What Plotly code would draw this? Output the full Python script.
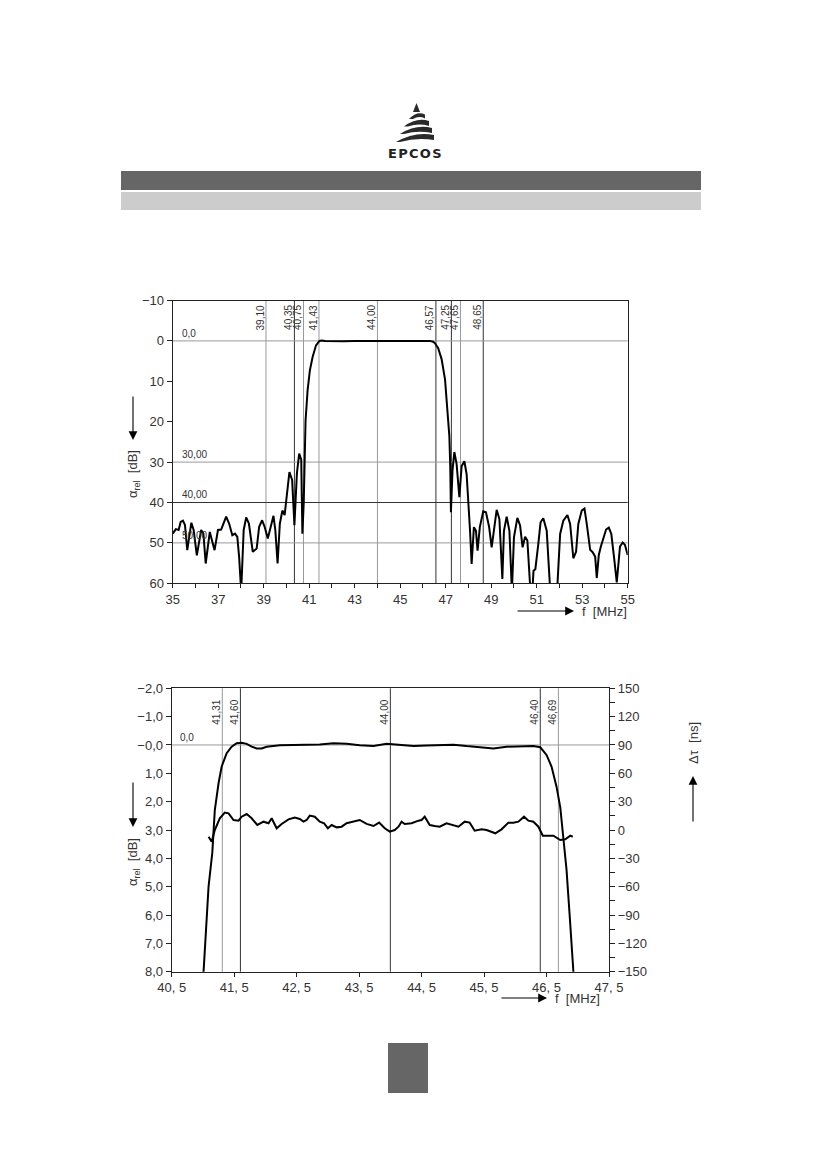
import plotly.graph_objects as go

W, H = 826, 1169
OFF = 8  # page body margin that the browser adds around the figure

# ---------------- data: top chart (attenuation, 35..55 MHz) ----------------
f_top = [35.0, 35.14, 35.26, 35.35, 35.45, 35.54, 35.64, 35.71, 35.82, 35.92,
         36.06, 36.25, 36.35, 36.45, 36.63, 36.84, 36.99, 37.13, 37.24, 37.35,
         37.48, 37.62, 37.74, 37.84, 37.92, 38.01, 38.12, 38.23, 38.35, 38.52,
         38.69, 38.80, 38.93, 39.04, 39.18, 39.33, 39.43, 39.51, 39.61, 39.71,
         39.82, 39.92, 40.04, 40.13, 40.25, 40.35, 40.46, 40.56, 40.65, 40.70,
         40.76, 40.79, 40.84, 40.93, 41.03, 41.15, 41.30, 41.45, 41.55, 41.70,
         42.0, 42.5, 43.0, 43.5, 44.0, 44.5, 45.0, 45.5, 46.0, 46.3,
         46.45, 46.53, 46.67, 46.82, 46.97, 47.07, 47.16, 47.20, 47.23, 47.30,
         47.38, 47.48, 47.60, 47.70, 47.82, 47.92, 47.99, 48.07, 48.14, 48.24,
         48.33, 48.40, 48.50, 48.65, 48.77, 48.91, 49.02, 49.12, 49.24, 49.36,
         49.49, 49.56, 49.68, 49.80, 49.91, 50.0, 50.15, 50.27, 50.38, 50.49,
         50.59, 50.71, 50.78, 50.86, 50.94, 51.07, 51.17, 51.29, 51.44, 51.58,
         51.75, 51.91, 52.03, 52.17, 52.35, 52.47, 52.61, 52.73, 52.83, 52.98,
         53.10, 53.20, 53.35, 53.46, 53.57, 53.64, 53.73, 53.82, 53.93, 54.05,
         54.17, 54.28, 54.40, 54.52, 54.66, 54.78, 54.88, 55.0]
a_top = [47.7, 46.6, 46.8, 44.8, 44.5, 45.6, 51.8, 49.3, 45.0, 46.8,
         53.1, 46.8, 47.7, 55.1, 47.3, 51.8, 46.8, 46.7, 45.2, 43.5,
         45.2, 48.1, 47.7, 48.5, 53.5, 62.0, 46.8, 43.7, 45.2, 52.2,
         51.4, 46.0, 44.4, 46.0, 48.9, 45.6, 43.3, 46.8, 55.1, 45.2,
         42.0, 43.1, 36.5, 32.5, 34.4, 45.6, 32.7, 27.9, 29.4, 47.7,
         40.0, 34.6, 19.7, 12.2, 7.3, 4.0, 1.1, 0.0, -0.1, 0.05,
         0.1, 0.08, 0.05, 0.05, 0.0, 0.0, 0.0, 0.02, 0.0, 0.0,
         0.2, 0.6, 1.8, 4.5, 9.5, 16.0, 23.5, 31.0, 42.4, 32.0,
         27.5, 30.5, 38.7, 31.0, 29.8, 33.0, 38.7, 47.0, 55.2, 46.1,
         47.0, 51.9, 46.1, 42.2, 42.4, 46.1, 51.1, 47.0, 41.8, 44.1,
         58.9, 47.0, 43.5, 47.0, 62.0, 48.6, 43.8, 45.7, 51.1, 48.5,
         49.4, 60.5, 65.0, 56.9, 56.5, 50.3, 44.9, 43.9, 47.0, 60.5,
         70.0, 60.5, 47.8, 44.5, 43.1, 45.3, 53.8, 52.2, 45.3, 42.0,
         41.5, 45.3, 51.7, 52.3, 53.4, 58.7, 53.0, 50.9, 48.8, 46.7,
         46.2, 47.8, 53.6, 59.8, 50.9, 49.9, 50.5, 53.0]

x_top_ticks = list(range(35, 56))
x_top_labels = [str(v) if v % 2 == 1 else "" for v in x_top_ticks]
y_top_ticks = [-10, 0, 10, 20, 30, 40, 50, 60]
y_top_labels = ["\u221210", "0", "10", "20", "30", "40", "50", "60"]

mark_top = [39.10, 40.35, 40.75, 41.43, 44.00, 46.57, 47.25, 47.65, 48.65]
mark_top_text = ["39,10", "40,35", "40,75", "41,43", "44,00", "46,57", "47,25", "47,65", "48,65"]
mark_top_dark = [False, True, False, False, False, True, True, False, True]
hline_top = [0, 30, 40, 50]
hline_top_text = ["0,0", "30,00", "40,00", "50,00"]
hline_top_dark = [False, False, True, False]

# ---------------- data: bottom chart (passband + group delay) ----------------
f_mag = [40.97, 41.01, 41.09, 41.15, 41.19, 41.25, 41.30, 41.38, 41.46, 41.54,
         41.62, 41.70, 41.78, 41.86, 41.94, 42.02, 42.23, 42.45, 42.66, 42.87,
         43.09, 43.30, 43.51, 43.73, 43.94, 44.15, 44.37, 44.58, 44.80, 45.01,
         45.22, 45.44, 45.65, 45.86, 46.08, 46.29, 46.40, 46.50, 46.58, 46.66,
         46.72, 46.77, 46.82, 46.87, 46.93, 46.96]
a_mag = [9.0, 8.0, 5.0, 3.8, 2.3, 1.35, 0.76, 0.29, 0.06, -0.06,
         -0.08, -0.04, 0.06, 0.12, 0.12, 0.06, 0.01, 0.0, 0.01, -0.02,
         -0.06, -0.04, 0.01, 0.04, -0.04, 0.0, 0.04, 0.02, 0.01, -0.01,
         0.04, 0.08, 0.12, 0.06, 0.05, 0.04, 0.08, 0.35, 0.76, 1.47,
         2.2, 3.2, 4.4, 6.0, 8.0, 9.0]

f_gd = [41.09, 41.14, 41.19, 41.27, 41.35, 41.41, 41.49, 41.57, 41.62, 41.70,
        41.78, 41.87, 41.97, 42.05, 42.10, 42.18, 42.26, 42.37, 42.47, 42.55,
        42.61, 42.66, 42.71, 42.79, 42.87, 42.94, 43.00, 43.06, 43.14, 43.22,
        43.30, 43.41, 43.51, 43.62, 43.73, 43.82, 43.91, 43.99, 44.07, 44.13,
        44.18, 44.23, 44.34, 44.45, 44.50, 44.55, 44.58, 44.63, 44.71, 44.79,
        44.90, 45.01, 45.09, 45.19, 45.27, 45.35, 45.46, 45.54, 45.68, 45.78,
        45.89, 45.97, 46.05, 46.14, 46.21, 46.29, 46.37, 46.44, 46.53, 46.61,
        46.72, 46.80, 46.88, 46.92]
gd = [-7.1, -12.4, 0.0, 12.4, 18.4, 17.6, 10.6, 9.9, 14.1, 16.9,
      12.4, 5.3, 8.8, 7.1, 12.4, 1.8, 6.4, 11.3, 13.1, 11.6,
      8.8, 10.6, 15.2, 14.1, 8.8, 7.1, 1.8, 5.3, 2.8, 3.5,
      7.1, 8.8, 10.6, 6.4, 4.2, 7.8, 1.8, -1.8, 0.0, 3.5,
      8.8, 6.4, 7.1, 9.9, 10.6, 14.1, 11.3, 5.3, 4.2, 3.5,
      7.1, 5.3, 3.5, 8.8, 7.8, -0.7, 0.7, 0.0, -3.5, 0.7,
      7.8, 7.8, 8.8, 14.1, 9.9, 8.8, 3.5, -6.0, -6.4, -6.0,
      -10.6, -9.9, -6.0, -7.1]

x_bot_ticks = [40.5, 41.5, 42.5, 43.5, 44.5, 45.5, 46.5, 47.5]
x_bot_labels = ["40, 5", "41, 5", "42, 5", "43, 5", "44, 5", "45, 5", "46, 5", "47, 5"]
y_bot_ticks = [-2, -1, 0, 1, 2, 3, 4, 5, 6, 7, 8]
y_bot_labels = ["\u22122,0", "\u22121,0", "\u22120,0", "1,0", "2,0", "3,0", "4,0",
                "5,0", "6,0", "7,0", "8,0"]
y_gd_ticks = [150, 120, 90, 60, 30, 0, -30, -60, -90, -120, -150]
y_gd_labels = ["150", "120", "90", "60", "30", "0", "\u221230", "\u221260",
               "\u221290", "\u2212120", "\u2212150"]

mark_bot = [41.31, 41.60, 44.00, 46.40, 46.69]
mark_bot_text = ["41,31", "41,60", "44,00", "46,40", "46,69"]
mark_bot_dark = [False, True, True, True, False]
hline_bot = [0]
hline_bot_text = ["0,0"]

# ---------------- layout helpers ----------------
def PX(x):
    return (x - OFF) / W


def PY(y):
    return 1 - (y - OFF) / H


FONT = "Liberation Sans"
TXT = "#333333"
DARK = "#333333"
GRAY = "#9a9a9a"

top_xdom = [PX(172.7), PX(627.7)]
top_ydom = [PY(583.3), PY(300.5)]
bot_xdom = [PX(171.7), PX(609.0)]
bot_ydom = [PY(971.7), PY(688.3)]

fig = go.Figure()

fig.add_trace(go.Scatter(x=f_top, y=a_top, mode="lines", xaxis="x", yaxis="y",
                         line=dict(color="black", width=2), hoverinfo="skip"))
fig.add_trace(go.Scatter(x=f_mag, y=a_mag, mode="lines", xaxis="x2", yaxis="y2",
                         line=dict(color="black", width=2), hoverinfo="skip"))
fig.add_trace(go.Scatter(x=f_gd, y=gd, mode="lines", xaxis="x2", yaxis="y3",
                         line=dict(color="black", width=2), hoverinfo="skip"))

tickfont = dict(family=FONT, size=13, color=TXT)
axline = dict(showline=True, linecolor="#222222", linewidth=1.2, showgrid=False,
              zeroline=False, tickcolor="#222222", tickfont=tickfont, automargin=False)
ovl = dict(showticklabels=False, showline=False, showgrid=False, zeroline=False,
           tickcolor="#222222", automargin=False)

shapes = []
annotations = []

# header bars
shapes.append(dict(type="rect", xref="paper", yref="paper", x0=PX(121), x1=PX(701),
                   y0=PY(190), y1=PY(171), fillcolor="#666666", line=dict(width=0)))
shapes.append(dict(type="rect", xref="paper", yref="paper", x0=PX(121), x1=PX(701),
                   y0=PY(210), y1=PY(192), fillcolor="#cccccc", line=dict(width=0)))
# footer block
shapes.append(dict(type="rect", xref="paper", yref="paper", x0=PX(388), x1=PX(428),
                   y0=PY(1093), y1=PY(1043), fillcolor="#666666", line=dict(width=0)))


def pt(x, y):
    return f"{PX(x):.5f},{PY(y):.5f}"


# logo: tip + curved bands
shapes.append(dict(type="path", xref="paper", yref="paper",
                   path=f"M {pt(413,112)} L {pt(416.5,103)} L {pt(420,112)} Z",
                   fillcolor="#2a2a2a", line=dict(width=0)))
bands = [(409, 425, 119, 114.5, 4), (404, 429, 126.5, 121, 5),
         (400, 432, 134, 128, 5), (396, 434, 142, 135, 5)]
for xl, xr, yl, yr, t in bands:
    xm = (xl + xr) / 2
    ym = min(yl, yr) - 4
    path = (f"M {pt(xl, yl)} Q {pt(xm, ym)} {pt(xr, yr)} L {pt(xr, yr + t)} "
            f"Q {pt(xm + 2, ym + t + 1)} {pt(xl + 4, yl)} Z")
    shapes.append(dict(type="path", xref="paper", yref="paper", path=path,
                       fillcolor="#2a2a2a", line=dict(width=0)))
annotations.append(dict(xref="paper", yref="paper", x=PX(415), y=PY(153),
                        text="<b>E\u200aP\u200aC\u200aO\u200aS</b>",
                        showarrow=False, font=dict(family="DejaVu Sans", size=13, color="#222"),
                        xanchor="center", yanchor="middle"))

# top chart grid lines and labels
for v, lab, dk in zip(mark_top, mark_top_text, mark_top_dark):
    shapes.append(dict(type="line", xref="x", yref="y domain", x0=v, x1=v, y0=0, y1=1,
                       line=dict(color=DARK if dk else GRAY, width=1), layer="below"))
    annotations.append(dict(xref="x", yref="y domain", x=v, y=0.94, text=lab, textangle=-90,
                            showarrow=False, xanchor="center", yanchor="middle", xshift=-6,
                            font=dict(family=FONT, size=10, color=TXT)))
for v, lab, dk in zip(hline_top, hline_top_text, hline_top_dark):
    shapes.append(dict(type="line", xref="x domain", yref="y", x0=0, x1=1, y0=v, y1=v,
                       line=dict(color=DARK if dk else GRAY, width=1), layer="below"))
    annotations.append(dict(xref="x domain", yref="y", x=0.017, y=v, text=lab,
                            showarrow=False, xanchor="left", yanchor="bottom", yshift=0,
                            font=dict(family=FONT, size=10, color=TXT)))

# bottom chart grid lines and labels
for v, lab, dk in zip(mark_bot, mark_bot_text, mark_bot_dark):
    shapes.append(dict(type="line", xref="x2", yref="y2 domain", x0=v, x1=v, y0=0, y1=1,
                       line=dict(color=DARK if dk else GRAY, width=1), layer="below"))
    annotations.append(dict(xref="x2", yref="y2 domain", x=v, y=0.915, text=lab, textangle=-90,
                            showarrow=False, xanchor="center", yanchor="middle", xshift=-6,
                            font=dict(family=FONT, size=10, color=TXT)))
for v, lab in zip(hline_bot, hline_bot_text):
    shapes.append(dict(type="line", xref="x2 domain", yref="y2", x0=0, x1=1, y0=v, y1=v,
                       line=dict(color=GRAY, width=1), layer="below"))
    annotations.append(dict(xref="x2 domain", yref="y2", x=0.015, y=v, text=lab,
                            showarrow=False, xanchor="left", yanchor="bottom",
                            font=dict(family=FONT, size=10, color=TXT)))

# axis titles with arrows
title_font = dict(family=FONT, size=13, color=TXT)
arrow_kw = dict(showarrow=True, arrowhead=2, arrowsize=1.6, arrowwidth=1.1, arrowcolor="black",
                text="", xref="paper", yref="paper", axref="pixel", ayref="pixel")
# top chart
annotations.append(dict(x=PX(133), y=PY(440), ax=0, ay=-45, **arrow_kw))
annotations.append(dict(xref="paper", yref="paper", x=PX(133), y=PY(474),
                        text="\u03b1<sub>rel</sub>  [dB]", textangle=-90, showarrow=False,
                        font=title_font, xanchor="center", yanchor="middle"))
annotations.append(dict(x=PX(574), y=PY(611), ax=-58, ay=0, **arrow_kw))
annotations.append(dict(xref="paper", yref="paper", x=PX(580), y=PY(611),
                        text="f  [MHz]", showarrow=False, font=title_font,
                        xanchor="left", yanchor="middle"))
# bottom chart
annotations.append(dict(x=PX(133), y=PY(827), ax=0, ay=-46, **arrow_kw))
annotations.append(dict(xref="paper", yref="paper", x=PX(133), y=PY(862),
                        text="\u03b1<sub>rel</sub>  [dB]", textangle=-90, showarrow=False,
                        font=title_font, xanchor="center", yanchor="middle"))
annotations.append(dict(x=PX(547), y=PY(998), ax=-47, ay=0, **arrow_kw))
annotations.append(dict(xref="paper", yref="paper", x=PX(553), y=PY(998),
                        text="f  [MHz]", showarrow=False, font=title_font,
                        xanchor="left", yanchor="middle"))
annotations.append(dict(x=PX(693), y=PY(776), ax=0, ay=47, **arrow_kw))
annotations.append(dict(xref="paper", yref="paper", x=PX(693), y=PY(743),
                        text="\u0394\u03c4  [ns]", textangle=-90, showarrow=False,
                        font=title_font, xanchor="center", yanchor="middle"))

fig.update_layout(
    template="none",
    width=W, height=H, margin=dict(l=0, r=0, t=0, b=0, pad=0, autoexpand=False),
    paper_bgcolor="white", plot_bgcolor="rgba(0,0,0,0)", showlegend=False,
    xaxis=dict(domain=top_xdom, anchor="y", range=[35, 55], tickmode="array",
               tickvals=x_top_ticks, ticktext=x_top_labels, ticks="outside", ticklen=4,
               mirror=True, **axline),
    yaxis=dict(domain=top_ydom, anchor="x", range=[60, -10], tickmode="array",
               tickvals=y_top_ticks, ticktext=y_top_labels, ticks="outside", ticklen=5,
               mirror=True, **axline),
    xaxis3=dict(overlaying="x", anchor="y", side="bottom", range=[35, 55], tickmode="array",
                tickvals=x_top_ticks, ticks="inside", ticklen=4, **ovl),
    xaxis2=dict(domain=bot_xdom, anchor="y2", range=[40.5, 47.5], tickmode="array",
                tickvals=x_bot_ticks, ticktext=x_bot_labels, ticks="outside", ticklen=4,
                mirror=True, **axline),
    xaxis4=dict(overlaying="x2", anchor="y2", side="bottom", range=[40.5, 47.5], tickmode="array",
                tickvals=x_bot_ticks, ticks="inside", ticklen=4, **ovl),
    yaxis2=dict(domain=bot_ydom, anchor="x2", range=[8, -2], tickmode="array",
                tickvals=y_bot_ticks, ticktext=y_bot_labels, ticks="outside", ticklen=5,
                **axline),
    yaxis3=dict(overlaying="y2", anchor="x2", side="right", range=[-150, 150], tickmode="array",
                tickvals=y_gd_ticks, ticktext=y_gd_labels, ticks="outside", ticklen=5,
                minor=dict(dtick=15, tick0=0, ticks="outside", ticklen=5, tickcolor="#222222"),
                **axline),
    yaxis4=dict(overlaying="y2", anchor="x2", side="right", range=[-150, 150], dtick=15, tick0=0,
                ticks="inside", ticklen=4, **ovl),
    shapes=shapes, annotations=annotations,
)

fig.write_html("out.html")
